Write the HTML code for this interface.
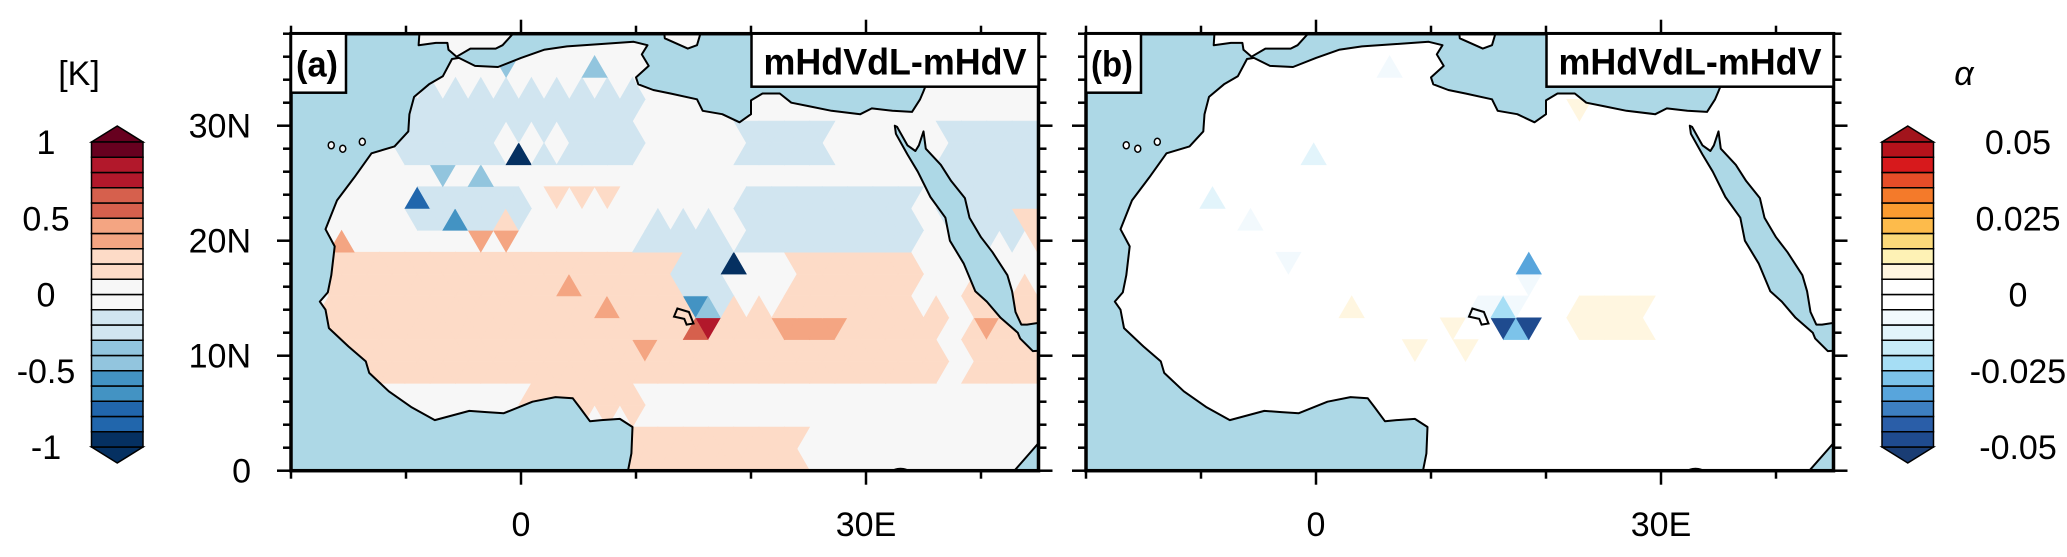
<!DOCTYPE html>
<html><head><meta charset="utf-8">
<style>
html,body{margin:0;padding:0;background:#fff;}
svg{display:block;}
text{font-family:"Liberation Sans",sans-serif;fill:#000;}
</style></head>
<body>
<svg id="fig" width="2067" height="557" viewBox="0 0 2067 557" xmlns="http://www.w3.org/2000/svg">
<defs>
<clipPath id="clipA"><rect x="291" y="33.7" width="747.5" height="437"/></clipPath>
<clipPath id="clipB"><rect x="1086" y="33.7" width="747.5" height="437"/></clipPath>
</defs>
<g id="panelA"></g>
<g id="panelB"></g>
<g id="cbarA"></g>
<g id="cbarB"></g>
</svg>
<script>
// ---------------- data ----------------
const cbarALevels = ["1","0.5","0","-0.5","-1"];
const cbarAColors = ["#053061","#2166ac","#2166ac","#4393c3","#4393c3","#92c5de","#92c5de","#d1e5f0","#d1e5f0","#f7f7f7","#f7f7f7","#fddbc7","#fddbc7","#f4a582","#f4a582","#d6604d","#d6604d","#b2182b","#b2182b","#67001f"];
const cbarBLevels = ["0.05","0.025","0","-0.025","-0.05"];
const cbarBColors = ["#1f4b8f","#2a5ea8","#3d7fc1","#58a5dc","#7cc3ea","#a6def5","#c8ecf8","#e2f4fb","#f2f9fd","#ffffff","#ffffff","#fff6e0","#fef2b5","#fbd97a","#fdbb4b","#fa9b30","#f47a2a","#e64d28","#d7191c","#b5121b"];

// panel a regions
const aRegLon0 = [-11,-9,19.5,10,19,37,-17,13,23,39,0,8,22.4,43,-2.6];
const aRegLon1 = [10,0,27,18,35,45,13,37,35,45,10,25,28,45,4];
const aRegLat0 = [26,21.5,27,13.5,18.7,20,7.5,8,14.5,8,5,0,11,20,27.6];
const aRegLat1 = [33.5,25,31,22,24.5,30,19,14.5,18.5,16,7.5,3.2,12.8,23,29.5];
const aRegVal  = [-0.15,-0.15,-0.15,-0.15,-0.15,-0.15,0.25,0.25,0.25,0.25,0.25,0.25,0.45,0.25,0];
// panel a individual cells
const aSpotLon = [0.9,-9.2,-5.7,-7,-3.5,18.4,15.2,16.2,14.7,10.9,-15.3,-3.3,-0.8,4.4,7.8,40.5,-0.3,6.6,3.2,5.6,8,-1.2,16.5];
const aSpotLat = [26.6,24.1,22.6,25,25,17.6,14.3,12.5,11.9,10.9,20,19,19,16.3,13.4,12.5,34.8,34.4,24.5,24.5,24.5,22.4,14.3];
const aSpotVal = [-0.95,-0.75,-0.55,-0.35,-0.35,-0.95,-0.55,0.85,0.65,0.45,0.45,0.45,0.45,0.45,0.45,0.45,-0.35,-0.35,0.25,0.25,0.25,0.25,-0.35];
const aSpotUp  = [1,1,1,0,1,1,0,0,1,0,1,0,0,1,1,0,0,1,0,0,0,1,1];

// panel b regions
const bRegLon0 = [22,14];
const bRegLon1 = [28.5,18];
const bRegLat0 = [11.5,13.5];
const bRegLat1 = [15.5,15];
const bRegVal  = [0.007,-0.007];
const bSpotLon = [6.0,22.6,0.9,-9.1,-5.7,-2.3,18.6,18.6,3.2,15.4,15.4,16.5,17.5,8.7,13,12.2];
const bSpotLat = [34.4,31.2,26.6,24.1,22.2,18.8,17.5,16,14.5,14.3,12.5,12.3,12.5,11,11,12.8];
const bSpotVal = [-0.007,0.007,-0.012,-0.012,-0.007,-0.007,-0.032,-0.007,0.007,-0.022,-0.047,-0.027,-0.047,0.007,0.007,0.007];
const bSpotUp  = [1,0,1,1,1,0,1,0,1,1,0,1,0,0,0,0];

// ---------------- geometry ----------------
const NS="http://www.w3.org/2000/svg";
const LON0=-20, LON1=45, LAT0=0, LAT1=38, PX=11.5, BOTTOM=470.7;
function mk(tag, attrs, parent){const e=document.createElementNS(NS,tag);for(const k in attrs)e.setAttribute(k,attrs[k]);if(parent)parent.appendChild(e);return e;}
function xs(left,lon){return left+(lon-LON0)*PX;}
function ys(lat){return BOTTOM-lat*PX;}

const oceanMain=[[9.3,0],[9.6,1.5],[9.7,3.8],[8.6,4.5],[7,4.4],[6,4.3],[5.1,5.5],[4.5,6.3],[3,6.4],[1,6],[-1.5,5],[-3,5.1],[-4.5,5.2],[-7.5,4.4],[-9.5,5.5],[-11.5,6.9],[-13.2,8.5],[-13.5,9.5],[-15,10.8],[-16.7,12.4],[-17,14],[-17.5,14.7],[-16.8,15.5],[-16.5,17],[-16.2,19.5],[-17,21],[-16,23.5],[-14.5,25.5],[-13,27.6],[-11,28.2],[-9.8,29.5],[-9.7,31],[-9.3,32.5],[-8,33.6],[-6.8,34.3],[-6,35.8],[-5.4,35.9],[-4,35.2],[-2,35.1],[0,35.9],[2,36.6],[4,36.9],[7,37.1],[9.8,37.3],[11,37],[10.5,36.2],[11.1,35.2],[10,34.2],[10.2,33.6],[11.5,33.1],[13,32.8],[15.3,32.3],[15.8,31.3],[17.5,31],[19,30.3],[20,31],[20,32.2],[21,32.8],[22.5,32.8],[23.5,32],[25,31.7],[27,31.3],[29.5,31],[30.5,31.5],[32.3,31.3],[34,31.2],[34.7,32.3],[35,33],[35.6,34.5],[35.9,35.5],[36,36.5],[35,36.6],[34,36.2],[32.5,36.1],[31,36.8],[29.5,36.3],[28,36.7],[27.3,37.5],[27,38.5],[15.6,38.5],[15.6,38],[15.3,37],[14.5,36.7],[12.5,37.6],[12.4,38.5],[-0.5,38.5],[-0.7,38],[-1.6,37],[-2.2,36.7],[-4.4,36.7],[-5.6,36],[-6.3,36.6],[-6.4,37.2],[-7.4,37.2],[-8.9,37],[-8.8,38.5],[-21,38.5],[-21,-1],[9.3,-1]];
const redSea=[[32.5,30],[32.6,29.3],[33.6,27.5],[34.5,26],[35.6,23.8],[36.9,22],[37.3,20],[38.5,18],[39.5,15.6],[40.5,14.7],[41.7,13.3],[43.2,12],[43.4,11.5],[44.5,10.4],[46,10.5],[46,13],[44,12.7],[43.5,12.7],[43,13.8],[42.7,15.6],[42.3,17],[41,19],[40,20.3],[39,22],[38.6,23.7],[37.4,25.2],[36.5,26.6],[35.2,28],[35,29.5],[34.6,28.3],[34.3,27.8],[33.6,28.3],[32.7,29.9]];
const somali=[[42.9,-1],[42.9,0],[45,2.4],[46,2.4],[46,-1]];
const lakeChad=[[13.3,13.4],[14.2,13.2],[14.4,12.7],[15,12.8],[14.6,13.8],[13.6,14.1]];
const canaries=[[-16.5,28.3],[-15.5,28.0],[-13.8,28.6]];

function polyPts(left,arr){return arr.map(p=>xs(left,p[0]).toFixed(1)+","+ys(p[1]).toFixed(1)).join(" ");}

function colorFor(v,colors,vmin,step){let i=Math.floor((v-vmin)/step+1e-9);if(i<0)i=0;if(i>colors.length-1)i=colors.length-1;return colors[i];}

function buildPanel(g,left,clip,landColor,rl0,rl1,rt0,rt1,rv,sl,st,sv,su,colors,vmin,step,labels){
  const W=2.2,H=1.9;
  const body=mk("g",{"clip-path":"url(#"+clip+")"},g);
  const land=mk("rect",{x:left,y:ys(LAT1),width:(LON1-LON0)*PX,height:LAT1*PX,fill:landColor},body);
  
  
  const nRows=Math.ceil((LAT1-LAT0)/H), nK=Math.ceil((LON1-LON0)/(W/2))+2;
  const grid={};
  for(let j=0;j<nRows;j++)for(let k=0;k<nK;k++){
    const cl=LON0+k*W/2, up=(k+j)%2===0, lb=j*H;
    const clat= up? lb+H/3 : lb+2*H/3;
    let v=0;
    for(let r=0;r<rv.length;r++){if(cl>=rl0[r]&&cl<=rl1[r]&&clat>=rt0[r]&&clat<=rt1[r])v=rv[r];}
    grid[j+"_"+k]=v;
  }
  for(let s=0;s<sv.length;s++){
    const j=Math.floor(st[s]/H), f=(sl[s]-LON0)/(W/2);
    let k=Math.round(f);
    const isUp=(k+j)%2===0;
    if(isUp!==(su[s]===1)){k=(f>k)?k+1:k-1;}
    grid[j+"_"+k]=sv[s];
  }
  const cells=mk("g",{},body);
  
  
  for(let j=0;j<nRows;j++)for(let k=0;k<nK;k++){
    const v=grid[j+"_"+k];const c=colorFor(v,colors,vmin,step);
    if(c.toLowerCase()===landColor.toLowerCase())continue;
    const cl=LON0+k*W/2, up=(k+j)%2===0, lb=j*H, lt=lb+H;
    const pts= up? [[cl-W/2,lb],[cl+W/2,lb],[cl,lt]] : [[cl-W/2,lt],[cl+W/2,lt],[cl,lb]];
    const t=mk("polygon",{points:polyPts(left,pts),fill:c,stroke:c,"stroke-width":0.6},cells);
    
    
  }
  const oc=mk("g",{fill:"#add8e6",stroke:"#000","stroke-width":2,"stroke-linejoin":"round"},body);
  
  
  mk("polygon",{points:polyPts(left,oceanMain)},oc);
  mk("polygon",{points:polyPts(left,redSea)},oc);
  mk("polygon",{points:polyPts(left,somali)},oc);
  const lk=mk("polygon",{points:polyPts(left,lakeChad),fill:"none",stroke:"#000","stroke-width":2},body);
  
  
  canaries.forEach(p=>{mk("ellipse",{cx:xs(left,p[0]),cy:ys(p[1]),rx:3,ry:3.5,fill:landColor,stroke:"#000","stroke-width":1.5},body);});
  mk("ellipse",{cx:xs(left,33),cy:ys(0),rx:8,ry:3,fill:"#000"},body);
  const fr=mk("rect",{x:left,y:ys(LAT1),width:(LON1-LON0)*PX,height:LAT1*PX,fill:"none",stroke:"#000","stroke-width":3.5},g);
  
  
  const tk=mk("g",{stroke:"#000","stroke-width":2.5},g);
  
  
  const R=xs(left,LON1), T=ys(LAT1), B=ys(0);
  for(let lon=-20;lon<=45;lon+=10){const x=xs(left,lon),L=(lon===0||lon===30)?14:8;
    mk("line",{x1:x,y1:B,x2:x,y2:B+L},tk);mk("line",{x1:x,y1:T,x2:x,y2:T-L},tk);}
  for(let lat=0;lat<=38;lat+=2){const y=ys(lat),L=(lat%10===0)?14:8;
    mk("line",{x1:left,y1:y,x2:left-L,y2:y},tk);mk("line",{x1:R,y1:y,x2:R+L,y2:y},tk);}
  [[0,"0"],[30,"30E"]].forEach(d=>{const t=mk("text",{x:xs(left,d[0]),y:536,"font-size":34,"text-anchor":"middle"},g);t.textContent=d[1];
    });
  if(labels){[[0,"0"],[10,"10N"],[20,"20N"],[30,"30N"]].forEach(d=>{const t=mk("text",{x:251,y:ys(d[0])+12,"font-size":34,"text-anchor":"end"},g);t.textContent=d[1];
    });}
  const lb=mk("rect",{x:left,y:T,width:55,height:59,fill:"#fff",stroke:"#000","stroke-width":2.5},g);
  
  const lt=mk("text",{x:left+5,y:T+43,"font-size":36,"font-weight":"bold",textLength:42,lengthAdjust:"spacingAndGlyphs"},g);
  lt.textContent= labels?"(a)":"(b)";
  
  const tb=mk("rect",{x:R-287,y:T,width:287,height:53,fill:"#fff",stroke:"#000","stroke-width":2.5},g);
  
  const tt=mk("text",{x:R-275,y:T+41,"font-size":37,"font-weight":"bold",textLength:263,lengthAdjust:"spacingAndGlyphs"},g);
  tt.textContent="mHdVdL-mHdV";
  
}

function buildCbar(g,x0,colors,lowTri,highTri,levels,labelX,unit){
  const w=51.5,top=142,bot=447,n=colors.length,bh=(bot-top)/n;
  const up=mk("polygon",{points:`${x0},${top} ${x0+w/2},${top-16} ${x0+w},${top}`,fill:highTri,stroke:"#000","stroke-width":1.5},g);
  
  const dn=mk("polygon",{points:`${x0},${bot} ${x0+w/2},${bot+16} ${x0+w},${bot}`,fill:lowTri,stroke:"#000","stroke-width":1.5},g);
  
  for(let i=0;i<n;i++){
    const r=mk("rect",{x:x0,y:bot-(i+1)*bh,width:w,height:bh,fill:colors[i],stroke:"#000","stroke-width":1.5},g);
    
  }
  levels.forEach((s,i)=>{const t=mk("text",{x:labelX,y:top+i*(bot-top)/(levels.length-1)+12,"font-size":34,"text-anchor":"middle"},g);t.textContent=s;
    });
  const u=mk("text",{x:unit[0],y:85,"font-size":34,"text-anchor":"middle","font-style":unit[2]?"italic":"normal"},g);
  u.textContent=unit[1];
  
}

buildPanel(document.getElementById("panelA"),291,"clipA","#f7f7f7",aRegLon0,aRegLon1,aRegLat0,aRegLat1,aRegVal,aSpotLon,aSpotLat,aSpotVal,aSpotUp,cbarAColors,-1,0.1,true);
buildPanel(document.getElementById("panelB"),1086,"clipB","#ffffff",bRegLon0,bRegLon1,bRegLat0,bRegLat1,bRegVal,bSpotLon,bSpotLat,bSpotVal,bSpotUp,cbarBColors,-0.05,0.005,false);
buildCbar(document.getElementById("cbarA"),91.5,cbarAColors,"#053061","#67001f",cbarALevels,46,[79,"[K]",false]);
buildCbar(document.getElementById("cbarB"),1882,cbarBColors,"#1a3d74","#a2141c",cbarBLevels,2018,[1964,"α",true]);
</script>
</body></html>
